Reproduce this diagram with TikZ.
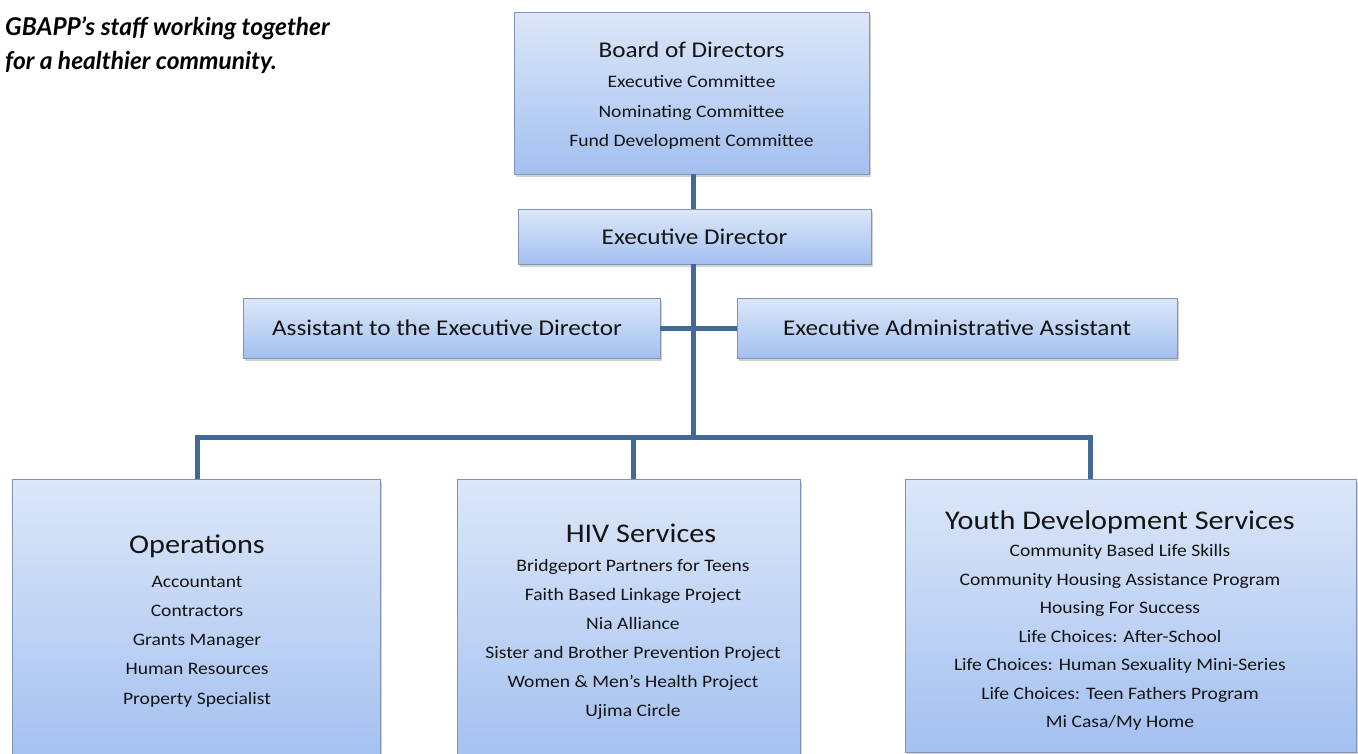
\documentclass[tikz,border=0pt]{standalone}
\usepackage{fontspec}
\setmainfont{Carlito}[FakeStretch=1.12]
\newfontfamily\headfont{Lato}
\usetikzlibrary{shadows}
\definecolor{linecol}{HTML}{41699A}
\definecolor{boxtop}{HTML}{DCE7F8}
\definecolor{boxbot}{HTML}{A3C0F0}
\definecolor{boxedge}{HTML}{8095B5}
\definecolor{txt}{HTML}{141414}
\tikzset{
  orgbox/.style={draw=boxedge, line width=0.8pt, top color=boxtop, bottom color=boxbot,
    drop shadow={opacity=0.35, shadow xshift=2pt, shadow yshift=-3pt}, inner sep=0pt},
  conn/.style={draw=linecol, line width=5pt},
  lbl/.style={text=txt, font=\fontsize{22.5}{26}\selectfont, inner sep=0pt},
  ttl/.style={text=txt, font=\fontsize{27}{30}\selectfont, inner sep=0pt},
  items/.style={text=txt, align=center, inner sep=0pt},
}
\begin{document}
\begin{tikzpicture}[x=1pt,y=-1pt]
\clip (0,0) rectangle (1358,753);
\fill[white] (0,0) rectangle (1358,753);

% header text
\node[anchor=west, text=black, align=left, inner sep=0pt,
  font=\headfont\bfseries\itshape\fontsize{24.5}{34}\selectfont] (hdr) at (5,45)
  {GBAPP’s staff working together\\for a healthier community.};

% boxes
\node[orgbox, minimum width=355pt, minimum height=162pt] (board) at (691.5,93) {};
\node[orgbox, minimum width=353pt, minimum height=55pt] (ed) at (694.5,236.5) {};
\node[orgbox, minimum width=417pt, minimum height=60pt] (asst) at (451.5,328) {};
\node[orgbox, minimum width=440pt, minimum height=60pt] (eaa) at (957,328) {};
\node[orgbox, minimum width=368pt, minimum height=285pt] (ops) at (196,621.5) {};
\node[orgbox, minimum width=343pt, minimum height=285pt] (hiv) at (628.5,621.5) {};
\node[orgbox, minimum width=451pt, minimum height=273pt] (yds) at (1130.5,615.5) {};

% connectors
\coordinate (bl) at (197,437);
\coordinate (bm) at (693,437);
\coordinate (bh) at (633,437);
\coordinate (br) at (1090,437);
\draw[conn] (board.south -| bm) -- (ed.north -| bm);
\draw[conn] (ed.south -| bm) -- (bm);
\draw[conn] (asst.east) -- (eaa.west);
\draw[conn, line cap=rect] (bl) -- (br);
\draw[conn] (bl) -- (bl |- ops.north);
\draw[conn] (bh) -- (bh |- hiv.north);
\draw[conn] (br) -- (br |- yds.north);

% board text
\node[lbl] (boardt) at (691.5,50) {Board of Directors};
\node[items, font=\fontsize{17.5}{29.5}\selectfont] (boardi) at (691.5,112.5)
  {Executive Committee\\Nominating Committee\\Fund Development Committee};

\node[lbl] (edt) at (694.5,237) {Executive Director};
\node[lbl] (asstt) at (447,328) {Assistant to the Executive Director};
\node[lbl] (eaat) at (957,328) {Executive Administrative Assistant};

% operations
\node[ttl] (opst) at (197,546) {Operations};
\node[items, font=\fontsize{17.5}{29.25}\selectfont] (opsi) at (197,641.5)
  {Accountant\\Contractors\\Grants Manager\\Human Resources\\Property Specialist};

% HIV
\node[ttl] (hivt) at (641,533) {HIV Services};
\node[items, font=\fontsize{17.5}{29}\selectfont] (hivi) at (633,639.5)
  {Bridgeport Partners for Teens\\Faith Based Linkage Project\\Nia Alliance\\Sister and Brother Prevention Project\\Women \& Men’s Health Project\\Ujima Circle};

% YDS
\node[ttl] (ydst) at (1120,522) {Youth Development Services};
\node[items, font=\fontsize{17.5}{28.5}\selectfont] (ydsi) at (1120,637.5)
  {Community Based Life Skills\\Community Housing Assistance Program\\Housing For Success\\Life Choices: After-School\\Life Choices: Human Sexuality Mini-Series\\Life Choices: Teen Fathers Program\\Mi Casa/My Home};
\end{tikzpicture}
\end{document}
